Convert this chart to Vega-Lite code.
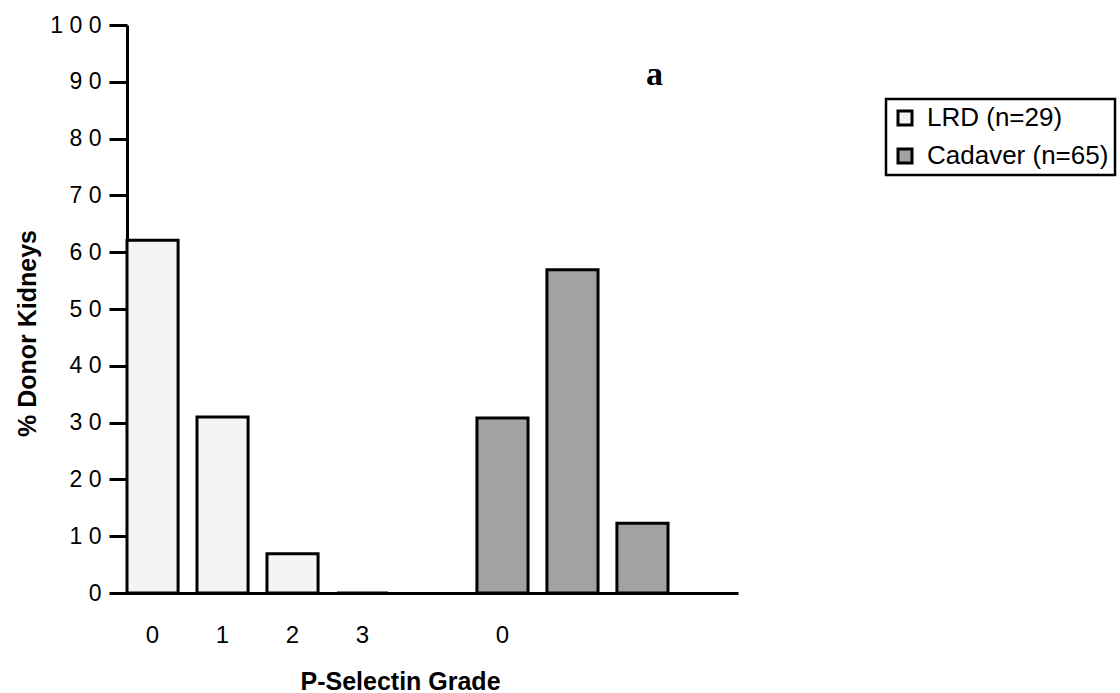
{
  "$schema": "https://vega.github.io/schema/vega-lite/v6.json",
  "width": 611,
  "height": 568,
  "autosize": "none",
  "padding": {"left": 127, "top": 25, "right": 382, "bottom": 100},
  "background": "white",
  "config": {
    "view": {"stroke": null},
    "font": "Liberation Sans"
  },
  "data": {
    "values": [
      {"bar": "LRD 0", "group": "LRD (n=29)", "pct": 62.1},
      {"bar": "LRD 1", "group": "LRD (n=29)", "pct": 31.0},
      {"bar": "LRD 2", "group": "LRD (n=29)", "pct": 6.9},
      {"bar": "LRD 3", "group": "LRD (n=29)", "pct": 0},
      {"bar": "Cadaver 0", "group": "Cadaver (n=65)", "pct": 30.8},
      {"bar": "Cadaver 1", "group": "Cadaver (n=65)", "pct": 56.9},
      {"bar": "Cadaver 2", "group": "Cadaver (n=65)", "pct": 12.3}
    ]
  },
  "layer": [
    {
      "mark": {"type": "bar", "stroke": "black", "strokeWidth": 3},
      "encoding": {
        "x": {
          "field": "bar",
          "type": "nominal",
          "scale": {
            "domain": ["LRD 0", "LRD 1", "LRD 2", "LRD 3", "gap", "Cadaver 0", "Cadaver 1", "Cadaver 2", "Cadaver 3"],
            "paddingInner": 0.27,
            "paddingOuter": 0
          },
          "axis": {
            "domain": true,
            "domainColor": "black",
            "domainWidth": 3,
            "ticks": false,
            "labelAngle": 0,
            "labelFontSize": 24,
            "labelColor": "black",
            "labelPadding": 30,
            "labelExpr": "indexof(['LRD 0','LRD 1','LRD 2','LRD 3','Cadaver 0'], datum.value) >= 0 ? slice(datum.value, -1) : ''",
            "title": "P-Selectin Grade",
            "titleFontSize": 25,
            "titleFontWeight": "bold",
            "titleColor": "black",
            "titleX": 273,
            "titleY": 96,
            "titleBaseline": "alphabetic",
            "titleAnchor": "middle",
            "titleAlign": "center"
          }
        },
        "y": {
          "field": "pct",
          "type": "quantitative",
          "scale": {"domain": [0, 100], "nice": false},
          "axis": {
            "values": [0, 10, 20, 30, 40, 50, 60, 70, 80, 90, 100],
            "labelExpr": "join(split(datum.label, ''), ' ')",
            "grid": false,
            "domainColor": "black",
            "domainWidth": 3,
            "tickColor": "black",
            "tickSize": 18,
            "tickWidth": 3,
            "labelFontSize": 23,
            "labelColor": "black",
            "labelPadding": 8,
            "title": "% Donor Kidneys",
            "titleFontSize": 25,
            "titleFontWeight": "bold",
            "titleColor": "black",
            "titleAngle": -90,
            "titleX": -100,
            "titleY": 308,
            "titleAlign": "center",
            "titleBaseline": "middle"
          }
        },
        "color": {
          "field": "group",
          "type": "nominal",
          "scale": {
            "domain": ["LRD (n=29)", "Cadaver (n=65)"],
            "range": ["#f4f4f4", "#a2a2a2"]
          },
          "legend": {
            "orient": "none",
            "legendX": 759,
            "legendY": 74,
            "title": null,
            "strokeColor": "black",
            "padding": 6,
            "symbolType": "square",
            "symbolSize": 196,
            "symbolStrokeColor": "black",
            "symbolStrokeWidth": 3,
            "labelFontSize": 26,
            "labelColor": "black",
            "labelOffset": 9,
            "labelLimit": 400,
            "rowPadding": 12,
            "encode": {"legend": {"update": {"strokeWidth": {"value": 2.5}}}}
          }
        }
      }
    },
    {
      "data": {"values": [{"t": "a"}]},
      "mark": {
        "type": "text",
        "font": "Liberation Serif",
        "fontWeight": "bold",
        "fontSize": 34,
        "baseline": "alphabetic",
        "align": "center",
        "dx": 12,
        "color": "black"
      },
      "encoding": {
        "x": {"datum": "Cadaver 2", "type": "nominal"},
        "y": {"datum": 89.4, "type": "quantitative"},
        "text": {"field": "t", "type": "nominal"}
      }
    }
  ]
}
